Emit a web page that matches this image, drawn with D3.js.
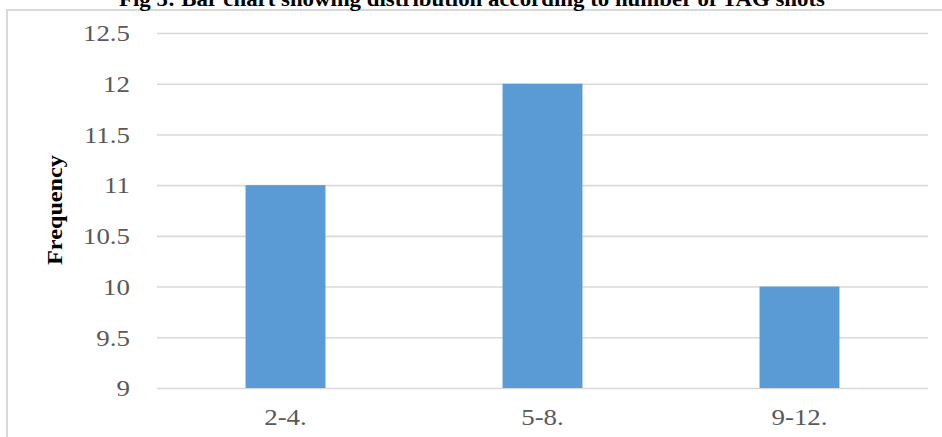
<!DOCTYPE html>
<html><head><meta charset="utf-8">
<script src="https://cdn.jsdelivr.net/npm/d3@7"></script>
<style>
html,body{margin:0;padding:0;background:#fff;overflow:hidden}
svg{display:block}
</style></head>
<body>
<svg id="chart" width="942" height="437"></svg>
<script>
const categories = ["2-4.", "5-8.", "9-12."];
const frequencies = [11, 12, 10];
const yTicks = [9, 9.5, 10, 10.5, 11, 11.5, 12, 12.5];
const yTickLabels = ["9", "9.5", "10", "10.5", "11", "11.5", "12", "12.5"];
const titleText = "Fig 5: Bar chart showing distribution according to number of TAG shots";
const yAxisTitle = "Frequency";

const W = 942, H = 437;
const svg = d3.select("#chart");
const serif = "'Liberation Serif','Times New Roman',serif";
const sx = 1.17;

// frame
svg.append("rect").attr("x", 7).attr("y", 10).attr("width", 960).attr("height", 460)
  .attr("fill", "#fff").attr("stroke", "#d9d9d9").attr("stroke-width", 2);

// title (cut at top)
svg.append("text").attr("x", 472).attr("y", 6).attr("text-anchor", "middle")
  .attr("font-family", serif).attr("font-weight", "bold").attr("font-size", 20)
  .attr("textLength", 706).attr("lengthAdjust", "spacingAndGlyphs")
  .attr("fill", "#000").text(titleText);

const left = 157, right = 928;
const y = d3.scaleLinear().domain([9, 12.5]).range([388, 33]);
const x = d3.scaleBand().domain(categories).range([left, right])
  .paddingInner(0.689).paddingOuter(0.3445);

// gridlines via axis
const grid = svg.append("g").attr("transform", `translate(${left},0)`)
  .call(d3.axisRight(y).tickValues(yTicks).tickSize(right - left).tickFormat(""));
grid.select(".domain").remove();
grid.selectAll(".tick line").attr("stroke", "#d9d9d9").attr("stroke-width", 1.6);

// bars
svg.append("g").selectAll("rect").data(categories).join("rect")
  .attr("x", d => x(d)).attr("width", x.bandwidth())
  .attr("y", (d, i) => y(frequencies[i]))
  .attr("height", (d, i) => y(9) - y(frequencies[i]))
  .attr("fill", "#5b9bd5");

// y axis labels
const yAx = svg.append("g").attr("transform", "translate(130,0)")
  .call(d3.axisLeft(y).tickValues(yTicks).tickSize(0).tickPadding(0)
    .tickFormat((d, i) => yTickLabels[i]));
yAx.select(".domain").remove();
yAx.selectAll(".tick text")
  .attr("font-family", serif).attr("font-size", 23).attr("fill", "#595959")
  .attr("x", 0).attr("dy", "0.34em")
  .attr("transform", `scale(${sx},1)`)
  .attr("x", 0);

// x axis labels
const xAx = svg.append("g").attr("transform", "translate(0,388)")
  .call(d3.axisBottom(x).tickSize(0).tickPadding(0));
xAx.select(".domain").remove();
xAx.selectAll(".tick text")
  .attr("font-family", serif).attr("font-size", 23).attr("fill", "#595959")
  .attr("y", 37).attr("dy", 0)
  .attr("transform", `scale(${sx},1)`);

// y axis title
svg.append("text")
  .attr("transform", "translate(62,210) rotate(-90)")
  .attr("text-anchor", "middle")
  .attr("font-family", serif).attr("font-weight", "bold").attr("font-size", 21)
  .attr("textLength", 110).attr("lengthAdjust", "spacingAndGlyphs")
  .attr("fill", "#000").text(yAxisTitle);
</script>
</body></html>
